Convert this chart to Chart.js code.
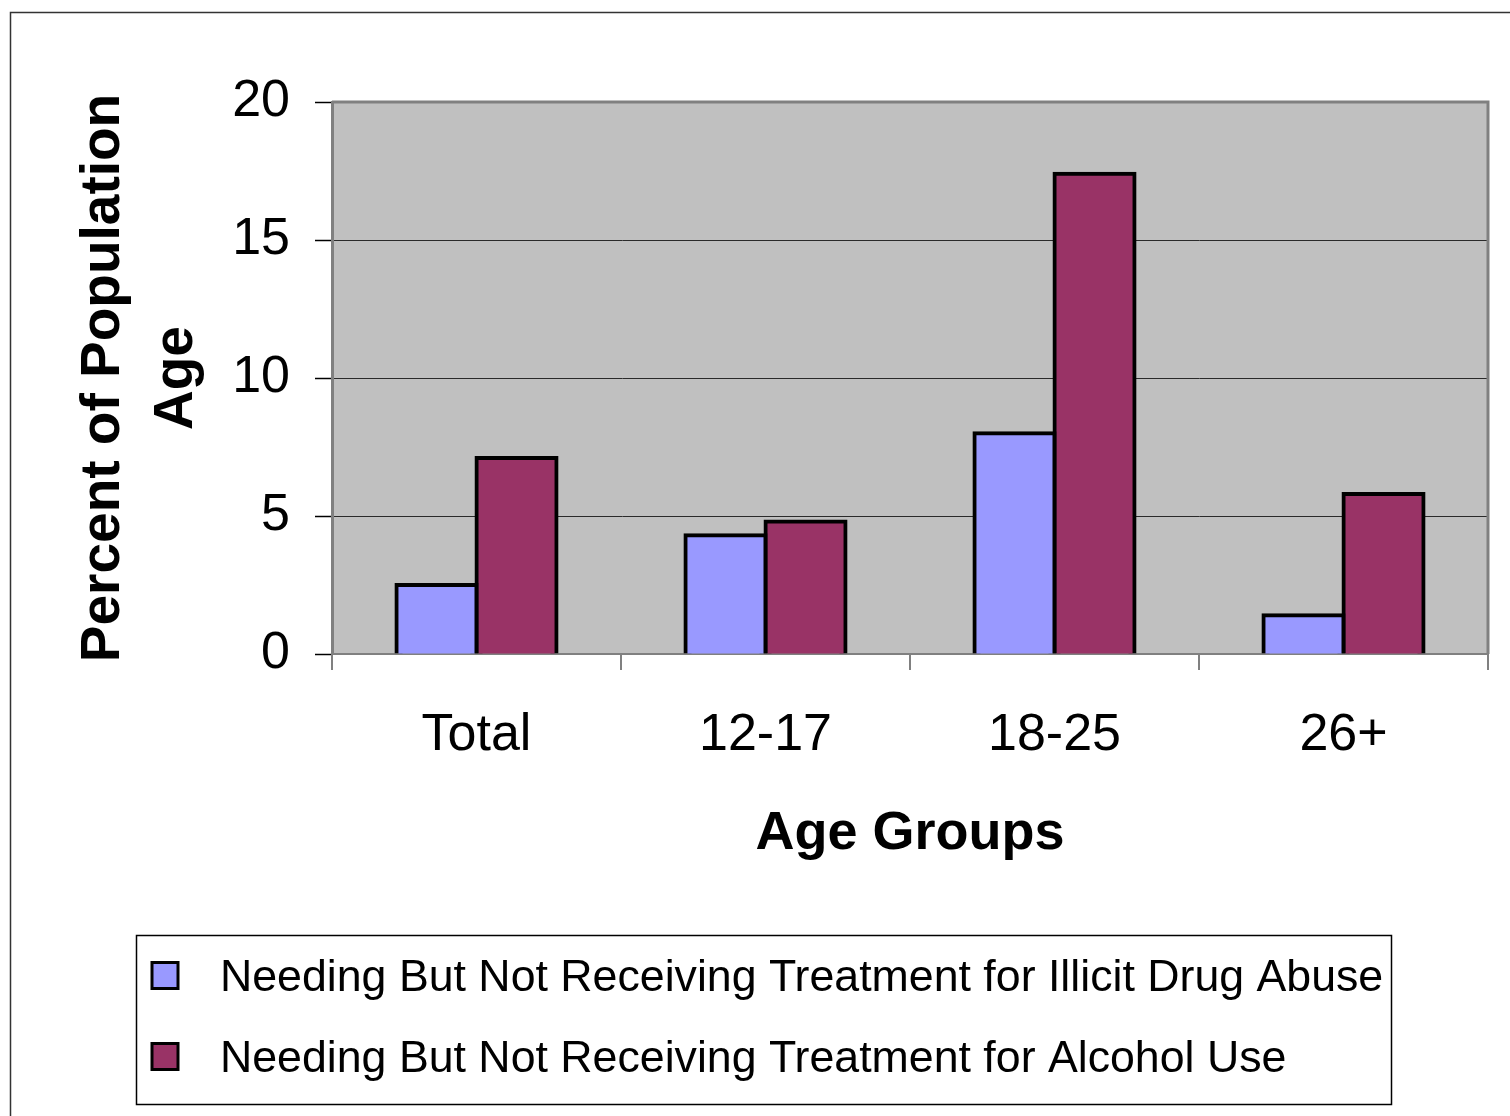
<!DOCTYPE html>
<html>
<head>
<meta charset="utf-8">
<title>Needing But Not Receiving Treatment by Age Group</title>
<script src="https://cdn.jsdelivr.net/npm/chart.js@4/dist/chart.umd.min.js"></script>
<style>
  html, body { margin: 0; padding: 0; background: #ffffff; }
  #wrap { position: relative; width: 1510px; height: 1116px; }
</style>
</head>
<body>
<div id="wrap"><canvas id="chart" width="1510" height="1116"></canvas></div>
<script>
// Age groups along the x axis
const categories = ['Total', '12-17', '18-25', '26+'];

// Percent of population in each age group
const illicitDrug = [2.5, 4.3, 8.0, 1.4];
const alcoholUse  = [7.1, 4.8, 17.4, 5.8];

const seriesLabels = [
  'Needing But Not Receiving Treatment for Illicit Drug Abuse',
  'Needing But Not Receiving Treatment for Alcohol Use'
];
const seriesColors = ['#9999FF', '#993366'];

// Value axis
const yMin = 0, yMax = 20, yStep = 5;

const FONT = '"Liberation Sans", Arial, Helvetica, sans-serif';

// Grey plot background, plot frame, outer frame and boxed legend
const decorations = {
  id: 'decorations',
  beforeDraw(chart) {
    const { ctx, chartArea: a } = chart;
    ctx.save();
    ctx.fillStyle = '#ffffff';
    ctx.fillRect(0, 0, chart.width, chart.height);
    ctx.fillStyle = '#C0C0C0';
    ctx.fillRect(a.left, a.top, a.right - a.left, a.bottom - a.top);
    ctx.restore();
  },
  beforeDatasetsDraw(chart) {
    const { ctx, chartArea: a } = chart;
    ctx.save();
    ctx.strokeStyle = '#808080';
    ctx.lineWidth = 3;
    ctx.beginPath();
    ctx.moveTo(a.left, a.top);
    ctx.lineTo(a.right, a.top);
    ctx.lineTo(a.right, a.bottom);
    ctx.stroke();
    ctx.restore();
  },
  afterDraw(chart) {
    const { ctx } = chart;
    ctx.save();
    // outer chart frame
    ctx.strokeStyle = '#333333';
    ctx.lineWidth = 1.5;
    ctx.beginPath();
    ctx.moveTo(10.5, chart.height);
    ctx.lineTo(10.5, 12.5);
    ctx.lineTo(chart.width, 12.5);
    ctx.stroke();

    // legend box
    ctx.strokeStyle = '#000000';
    ctx.lineWidth = 1.5;
    ctx.strokeRect(136.5, 935.5, 1255, 169);

    ctx.font = '44.7px ' + FONT;
    ctx.textAlign = 'left';
    ctx.textBaseline = 'alphabetic';
    chart.data.datasets.forEach((ds, i) => {
      const cy = 975.5 + i * 81;
      ctx.fillStyle = ds.backgroundColor;
      ctx.fillRect(152, cy - 13, 26, 26);
      ctx.strokeStyle = '#000000';
      ctx.lineWidth = 3;
      ctx.strokeRect(152, cy - 13, 26, 26);
      ctx.fillStyle = '#000000';
      ctx.fillText(ds.label, 220, cy + 15);
    });
    ctx.restore();
  }
};

// bar outlines sit centred on the bar edges, so neighbouring bars share one line
const barStyle = {
  borderColor: '#000000',
  borderWidth: 4,
  borderSkipped: 'bottom',
  inflateAmount: 2,
  clip: { left: 10, top: 10, right: 10, bottom: 0 }
};

new Chart(document.getElementById('chart'), {
  type: 'bar',
  data: {
    labels: categories,
    datasets: [
      Object.assign({ label: seriesLabels[0], data: illicitDrug, backgroundColor: seriesColors[0] }, barStyle),
      Object.assign({ label: seriesLabels[1], data: alcoholUse, backgroundColor: seriesColors[1] }, barStyle)
    ]
  },
  options: {
    responsive: false,
    animation: false,
    devicePixelRatio: 1,
    layout: { padding: { top: 102, right: 22, bottom: 246, left: 0 } },
    datasets: {
      bar: { categoryPercentage: 0.554, barPercentage: 1.0 }
    },
    plugins: {
      legend: { display: false },
      tooltip: { enabled: false },
      title: { display: false }
    },
    scales: {
      x: {
        offset: true,
        grid: {
          offset: true,
          drawOnChartArea: false,
          drawTicks: true,
          tickLength: 16,
          color: '#808080',
          lineWidth: 2
        },
        border: { display: true, color: '#808080', width: 2 },
        ticks: {
          color: '#000000',
          font: { family: FONT, size: 52 },
          padding: 34,
          maxRotation: 0
        },
        title: {
          display: true,
          text: 'Age Groups',
          color: '#000000',
          font: { family: FONT, size: 54, weight: 'bold' },
          padding: { top: 0, bottom: 3 }
        },
        afterFit(scale) { scale.height = 1116 - 246 - 654; }
      },
      y: {
        min: yMin,
        max: yMax,
        ticks: {
          stepSize: yStep,
          color: '#000000',
          font: { family: FONT, size: 52 },
          padding: 25
        },
        grid: {
          color: '#2a2a2a',
          lineWidth: 1,
          drawTicks: true,
          tickLength: 17,
          tickColor: '#000000',
          tickWidth: 1.5
        },
        border: { display: true, color: '#808080', width: 3 },
        title: {
          display: true,
          text: ['Percent of Population', 'Age'],
          color: '#000000',
          font: { family: FONT, size: 55, weight: 'bold', lineHeight: 1.33 },
          padding: { top: 67, bottom: 0 }
        },
        afterFit(scale) { scale.width = 332; }
      }
    }
  },
  plugins: [decorations]
});
</script>
</body>
</html>
